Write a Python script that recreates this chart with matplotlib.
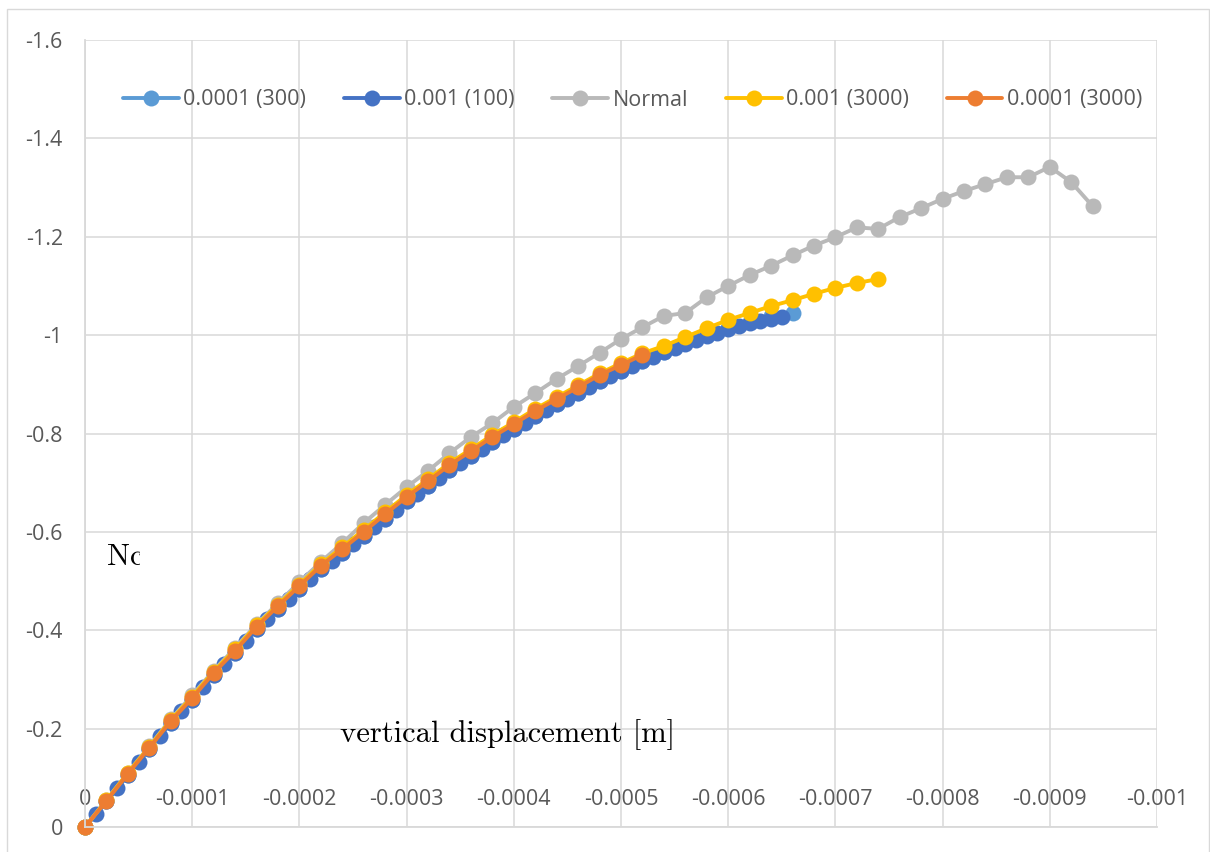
import matplotlib
matplotlib.use("Agg")
import matplotlib.pyplot as plt
from matplotlib.patches import Rectangle
from matplotlib.transforms import Bbox, TransformedBbox

# Displacement samples [m]
disp_fine = [0, -0.00001, -0.00002, -0.00003, -0.00004, -0.00005, -0.00006, -0.00007,
             -0.00008, -0.00009, -0.0001, -0.00011, -0.00012, -0.00013, -0.00014, -0.00015,
             -0.00016, -0.00017, -0.00018, -0.00019, -0.0002, -0.00021, -0.00022, -0.00023,
             -0.00024, -0.00025, -0.00026, -0.00027, -0.00028, -0.00029, -0.0003, -0.00031,
             -0.00032, -0.00033, -0.00034, -0.00035, -0.00036, -0.00037, -0.00038, -0.00039,
             -0.0004, -0.00041, -0.00042, -0.00043, -0.00044, -0.00045, -0.00046, -0.00047,
             -0.00048, -0.00049, -0.0005, -0.00051, -0.00052, -0.00053, -0.00054, -0.00055,
             -0.00056, -0.00057, -0.00058, -0.00059, -0.0006, -0.00061, -0.00062, -0.00063,
             -0.00064, -0.00065]
disp_coarse = [0, -0.00002, -0.00004, -0.00006, -0.00008, -0.0001, -0.00012, -0.00014,
               -0.00016, -0.00018, -0.0002, -0.00022, -0.00024, -0.00026, -0.00028, -0.0003,
               -0.00032, -0.00034, -0.00036, -0.00038, -0.0004, -0.00042, -0.00044, -0.00046,
               -0.00048, -0.0005, -0.00052, -0.00054, -0.00056, -0.00058, -0.0006, -0.00062,
               -0.00064, -0.00066, -0.00068, -0.0007, -0.00072, -0.00074, -0.00076, -0.00078,
               -0.0008, -0.00082, -0.00084, -0.00086, -0.00088, -0.0009, -0.00092, -0.00094]

# Normalised force Nc for each run
nc_1e4_300 = [0, -0.052, -0.106, -0.159, -0.212, -0.259, -0.309, -0.354, -0.402, -0.444,
              -0.484, -0.524, -0.558, -0.592, -0.627, -0.662, -0.694, -0.726, -0.754, -0.783,
              -0.809, -0.835, -0.859, -0.883, -0.906, -0.927, -0.947, -0.966, -0.984, -1.000,
              -1.014, -1.027, -1.038, -1.045]
nc_1e3_100 = [0, -0.026, -0.052, -0.079, -0.106, -0.133, -0.159, -0.186, -0.212, -0.236,
              -0.259, -0.284, -0.309, -0.332, -0.354, -0.378, -0.402, -0.423, -0.444, -0.464,
              -0.484, -0.504, -0.524, -0.541, -0.558, -0.575, -0.592, -0.610, -0.627, -0.644,
              -0.662, -0.678, -0.694, -0.710, -0.726, -0.740, -0.754, -0.768, -0.783, -0.796,
              -0.809, -0.822, -0.835, -0.847, -0.859, -0.871, -0.883, -0.894, -0.906, -0.916,
              -0.927, -0.937, -0.947, -0.956, -0.965, -0.974, -0.982, -0.990, -0.998, -1.005,
              -1.012, -1.018, -1.024, -1.029, -1.033, -1.037]
nc_normal = [0, -0.055, -0.110, -0.164, -0.219, -0.268, -0.318, -0.364, -0.412, -0.455,
             -0.498, -0.539, -0.577, -0.618, -0.655, -0.691, -0.724, -0.760, -0.793, -0.821,
             -0.854, -0.882, -0.911, -0.937, -0.964, -0.992, -1.016, -1.039, -1.045, -1.077,
             -1.100, -1.122, -1.141, -1.162, -1.182, -1.199, -1.219, -1.216, -1.240, -1.258,
             -1.277, -1.293, -1.307, -1.321, -1.321, -1.342, -1.311, -1.262]
nc_1e3_3000 = [0, -0.054, -0.110, -0.163, -0.217, -0.265, -0.316, -0.361, -0.410, -0.452,
               -0.493, -0.534, -0.569, -0.604, -0.640, -0.675, -0.707, -0.740, -0.768, -0.797,
               -0.823, -0.850, -0.874, -0.898, -0.922, -0.943, -0.963, -0.978, -0.996, -1.014,
               -1.031, -1.045, -1.059, -1.071, -1.084, -1.096, -1.106, -1.114]
nc_1e4_3000 = [0, -0.053, -0.108, -0.161, -0.215, -0.262, -0.313, -0.358, -0.407, -0.449,
               -0.490, -0.531, -0.565, -0.600, -0.636, -0.671, -0.703, -0.736, -0.764, -0.793,
               -0.819, -0.846, -0.870, -0.894, -0.919, -0.939, -0.960]

series_labels = ["0.0001 (300)", "0.001 (100)", "Normal", "0.001 (3000)", "0.0001 (3000)"]
series_colors = ["#5B9BD5", "#4472C4", "#B9B9B9", "#FFC000", "#ED7D31"]

x_ticks = [0, -0.0001, -0.0002, -0.0003, -0.0004, -0.0005, -0.0006, -0.0007, -0.0008, -0.0009, -0.001]
x_tick_labels = ["0", "-0.0001", "-0.0002", "-0.0003", "-0.0004", "-0.0005", "-0.0006",
                 "-0.0007", "-0.0008", "-0.0009", "-0.001"]
y_ticks = [0, -0.2, -0.4, -0.6, -0.8, -1.0, -1.2, -1.4, -1.6]
y_tick_labels = ["0", "-0.2", "-0.4", "-0.6", "-0.8", "-1", "-1.2", "-1.4", "-1.6"]

W, H = 1210, 852
fig = plt.figure(figsize=(W / 100, H / 100), dpi=100)
fig.patch.set_facecolor("white")

# light chart-area border
fig.patches.append(Rectangle((7 / W, -0.05), 1202 / W, 1.05 - 9 / H,
                             transform=fig.transFigure, fill=False,
                             edgecolor="#D9D9D9", linewidth=1.0))

ax = fig.add_axes([85 / W, 25 / H, (1157 - 85) / W, (827 - 40) / H])
ax.set_xlim(0, -0.001)
ax.set_ylim(0, -1.6)

grid_c = "#D9D9D9"
ax.set_xticks(x_ticks)
ax.set_xticklabels(x_tick_labels)
ax.set_yticks(y_ticks)
ax.set_yticklabels(y_tick_labels)
ax.grid(True, color=grid_c, linewidth=1.1)
ax.set_axisbelow(True)
for side in ("top", "right"):
    ax.spines[side].set_visible(False)
for side in ("left", "bottom"):
    ax.spines[side].set_color(grid_c)
    ax.spines[side].set_linewidth(1.3)

ax.tick_params(axis="both", length=0, colors="#595959")
ax.tick_params(axis="y", pad=16)
ax.tick_params(axis="x", pad=-27.5)
for lab in ax.get_xticklabels() + ax.get_yticklabels():
    lab.set_fontfamily("Open Sans")
    lab.set_fontsize(15.5)

data = [
    (disp_coarse[:len(nc_1e4_300)], nc_1e4_300),
    (disp_fine[:len(nc_1e3_100)], nc_1e3_100),
    (disp_coarse[:len(nc_normal)], nc_normal),
    (disp_coarse[:len(nc_1e3_3000)], nc_1e3_3000),
    (disp_coarse[:len(nc_1e4_3000)], nc_1e4_3000),
]
for (xs, ys), lab, col in zip(data, series_labels, series_colors):
    ax.plot(xs, ys, color=col, linewidth=2.8, marker="o", markersize=11.5,
            markeredgewidth=0, label=lab, clip_on=False, solid_capstyle="round")

leg = fig.legend(loc="center", bbox_to_anchor=((127 + 1138) / 2 / W, 1 - 100 / H),
                 ncol=5, frameon=False, handlelength=2.6, handletextpad=0.2,
                 columnspacing=1.75, borderpad=0, borderaxespad=0,
                 prop=dict(family="Open Sans", size=15.5))
for t in leg.get_texts():
    t.set_color("#595959")

# free-floating axis captions; the Nc caption is cut off by its text box
fig.text(340 / W, 1 - 735 / H, "vertical displacement [m]", family="cmr10",
         fontsize=22, color="black", ha="left", va="center")
nc = fig.text(107 / W, 1 - 557 / H, "Nc", family="cmr10", fontsize=22,
              color="black", ha="left", va="center", clip_on=True)
nc.set_clip_box(TransformedBbox(Bbox([[0, 0], [139.5 / W, 1]]), fig.transFigure))

fig.savefig("out.png", dpi=100, facecolor="white")
